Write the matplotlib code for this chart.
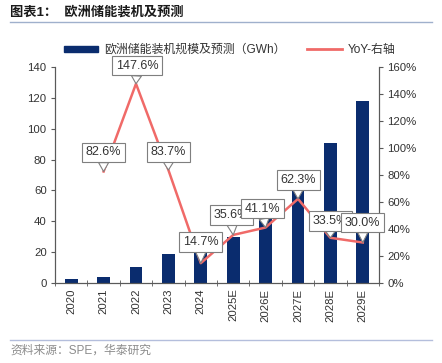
import numpy as np
import matplotlib
matplotlib.use("Agg")
import matplotlib.pyplot as plt
from matplotlib.lines import Line2D
from matplotlib.patches import Patch

plt.rcParams["font.family"] = ["Liberation Sans", "Noto Sans CJK SC", "DejaVu Sans"]

years = ["2020", "2021", "2022", "2023", "2024", "2025E", "2026E", "2027E", "2028E", "2029E"]
capacity = [2.3, 4.2, 10.4, 19.1, 21.9, 29.7, 41.9, 68.0, 90.8, 118.0]   # GWh
yoy = [np.nan, 82.6, 147.6, 83.7, 14.7, 35.6, 41.1, 62.3, 33.5, 30.0]    # %
# label box offsets from point (pixels)
offsets = [None, (0, 19), (1, 18), (0, 18), (0, 21), (-2, 20), (-3, 19), (0, 19), (0, 17), (0, 20)]

NAVY, RED, GRAY, INK = "#0a2c6e", "#f06a68", "#7f7f7f", "#333333"

fig = plt.figure(figsize=(4.42, 3.63), dpi=100)
ax = fig.add_axes([55 / 442, 80 / 363, 324 / 442, 216 / 363])
ax2 = ax.twinx()

x = np.arange(len(years))
ax.bar(x, capacity, width=0.39, color=NAVY, zorder=2)
ax2.plot(x, yoy, color=RED, lw=1.8, zorder=3)

ax.set_xlim(-0.5, len(years) - 0.5)
ax.set_ylim(0, 140)
ax.set_yticks(range(0, 141, 20))
ax2.set_ylim(0, 160)
ax2.set_yticks(range(0, 161, 20))
ax2.set_yticklabels([f"{v}%" for v in range(0, 161, 20)])

ax.set_xticks(x)
ax.set_xticklabels(years, rotation=90)
ax.set_xticks(np.arange(-0.5, len(years), 1), minor=True)
ax.tick_params(axis="x", which="major", length=0, pad=4)
ax.tick_params(axis="x", which="minor", length=5, direction="inout", color="#595959")

for a in (ax, ax2):
    a.tick_params(labelsize=8.2, labelcolor=INK, color="#595959", width=0.8)
    a.spines["top"].set_visible(False)
    for s in ("left", "right", "bottom"):
        a.spines[s].set_color("#595959")
        a.spines[s].set_linewidth(0.8)
ax.tick_params(axis="y", length=3, pad=3)
ax2.tick_params(axis="y", length=3, pad=3)

for i, v in enumerate(yoy):
    if offsets[i] is None:
        continue
    ax2.annotate(f"{v:.1f}%", xy=(i, v), xytext=offsets[i], textcoords="offset pixels",
                 ha="center", va="center", fontsize=9, color=INK, zorder=5,
                 bbox=dict(boxstyle="square,pad=0.3", fc="white", ec=GRAY, lw=0.8),
                 arrowprops=dict(arrowstyle="wedge,tail_width=0.8", fc="white", ec=GRAY,
                                 lw=0.8, shrinkA=0, shrinkB=0))

handles = [Patch(facecolor=NAVY, edgecolor=NAVY), Line2D([0], [0], color=RED, lw=2)]
fig.legend(handles, ["欧洲储能装机规模及预测（GWh）", "YoY-右轴"], loc="center",
           bbox_to_anchor=(0.52, 1 - 50 / 363), ncol=2, frameon=False, fontsize=8.6,
           handlelength=2.9, handleheight=0.45, columnspacing=1.8, handletextpad=0.5,
           labelcolor=INK)

fig.text(10 / 442, 1 - 12 / 363, "图表1：  欧洲储能装机及预测", fontsize=9.5, fontweight="bold",
         color="#1a1a1a", va="center", ha="left")
fig.add_artist(Line2D([10 / 442, 432 / 442], [1 - 22 / 363] * 2, color="#9fb0cc", lw=1))
fig.add_artist(Line2D([10 / 442, 432 / 442], [1 - 340 / 363] * 2, color="#b4bedc", lw=1))
fig.text(10 / 442, 1 - 351 / 363, "资料来源：SPE，华泰研究", fontsize=8.5, color="#8c8c8c",
         va="center", ha="left")

fig.savefig("out.png", dpi=100)
